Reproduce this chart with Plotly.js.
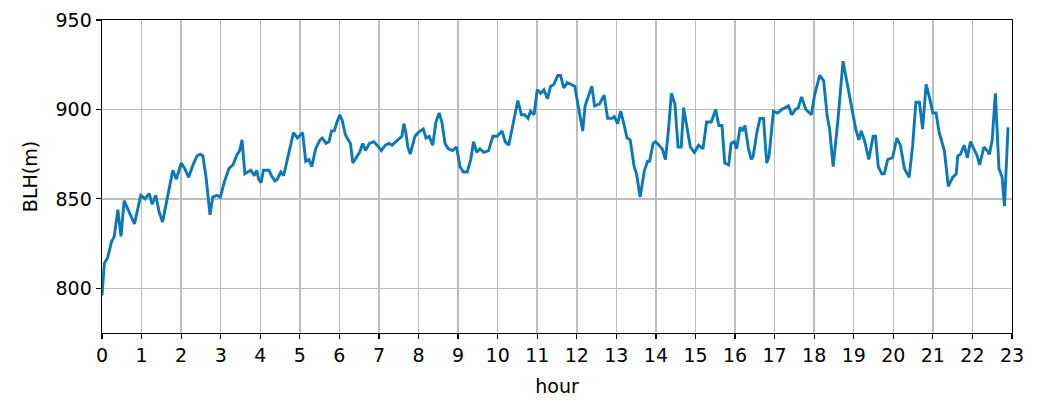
<!DOCTYPE html>
<html>
<head>
<meta charset="utf-8">
<script src="https://cdn.plot.ly/plotly-3.0.1.min.js"></script>
<style>
  html, body { margin: 0; padding: 0; background: #ffffff; }
  #chart { width: 1041px; height: 401px; }
</style>
</head>
<body>
<div id="chart"></div>
<script>
// Boundary layer height through the day
const hours = [
  0.00, 0.06, 0.14, 0.24, 0.31, 0.40, 0.48, 0.56, 0.66, 0.82, 0.98,
  1.09, 1.19, 1.27, 1.36, 1.44, 1.53, 1.68, 1.79, 1.88, 2.00,
  2.09, 2.19, 2.30, 2.40, 2.48, 2.55, 2.63, 2.73, 2.80, 2.90, 2.99,
  3.10, 3.21, 3.31, 3.42, 3.48, 3.54, 3.61, 3.68, 3.76, 3.85, 3.91, 3.96,
  4.02, 4.08, 4.22, 4.28, 4.37, 4.43, 4.52, 4.59, 4.69, 4.77, 4.84, 4.94,
  5.07, 5.15, 5.23, 5.30, 5.40, 5.51, 5.57, 5.66, 5.74, 5.80, 5.87, 5.94,
  6.01, 6.07, 6.15, 6.22, 6.28, 6.34, 6.42, 6.51, 6.59, 6.66, 6.76, 6.87, 6.95,
  7.06, 7.16, 7.25, 7.33, 7.42, 7.52, 7.58, 7.63, 7.68, 7.73, 7.79, 7.91, 7.99,
  8.12, 8.19, 8.27, 8.36, 8.44, 8.52, 8.59, 8.67, 8.75, 8.86, 8.96,
  9.05, 9.13, 9.23, 9.32, 9.39, 9.47, 9.55, 9.65, 9.77, 9.88, 9.99,
  10.11, 10.19, 10.28, 10.41, 10.51, 10.60, 10.68, 10.77, 10.83, 10.92,
  11.00, 11.09, 11.17, 11.26, 11.34, 11.42, 11.52, 11.59, 11.67, 11.76, 11.84, 11.95,
  12.02, 12.08, 12.15, 12.21, 12.30, 12.38, 12.45, 12.57, 12.69, 12.78, 12.89, 12.95,
  13.03, 13.11, 13.20, 13.27, 13.35, 13.45, 13.51, 13.60, 13.71, 13.79, 13.84, 13.93, 13.99,
  14.07, 14.16, 14.24, 14.32, 14.39, 14.48, 14.56, 14.64, 14.70, 14.79, 14.87, 14.97,
  15.08, 15.19, 15.28, 15.40, 15.51, 15.59, 15.67, 15.74, 15.84, 15.90, 15.98,
  16.04, 16.13, 16.19, 16.25, 16.34, 16.41, 16.46, 16.55, 16.63, 16.72, 16.80, 16.86, 16.97,
  17.08, 17.18, 17.27, 17.35, 17.43, 17.53, 17.60, 17.68, 17.79, 17.93,
  18.01, 18.14, 18.24, 18.33, 18.39, 18.48, 18.60, 18.73, 18.83, 18.90, 18.98,
  19.05, 19.13, 19.19, 19.28, 19.38, 19.49, 19.55, 19.62, 19.71, 19.77, 19.86, 19.98,
  20.09, 20.18, 20.28, 20.40, 20.49, 20.57, 20.66, 20.74, 20.83, 20.91, 21.00,
  21.08, 21.16, 21.29, 21.39, 21.50, 21.59, 21.63, 21.70, 21.79, 21.87, 21.95,
  22.04, 22.12, 22.18, 22.29, 22.37, 22.43, 22.50, 22.58, 22.67, 22.75, 22.81, 22.90
];

const blh = [
  796, 814, 817, 826, 829, 844, 829, 849, 844, 836, 852,
  850, 853, 847, 852, 843, 837, 853, 866, 861, 870,
  867, 862, 869, 874, 875, 874, 862, 841, 851, 852, 851,
  860, 867, 869, 875, 877, 883, 864, 865, 866, 863, 866, 861,
  859, 866, 866, 863, 860, 861, 865, 863, 873, 881, 887, 884,
  887, 871, 872, 868, 878, 883, 884, 881, 882, 888, 888, 893,
  897, 894, 886, 883, 881, 870, 873, 876, 881, 877, 881, 882, 880,
  877, 880, 881, 880, 882, 884, 885, 892, 887, 879, 875, 885, 887,
  889, 884, 885, 880, 893, 898, 893, 881, 878, 877, 879,
  868, 865, 865, 872, 882, 876, 878, 876, 877, 885, 885,
  888, 882, 880, 894, 905, 897, 897, 895, 899, 897,
  911, 909, 911, 906, 913, 914, 919, 919, 912, 915, 914, 913,
  904, 896, 888, 902, 908, 913, 902, 903, 908, 895, 895, 896,
  892, 899, 891, 884, 883, 868, 864, 851, 866, 871, 871, 881, 882,
  880, 878, 872, 889, 909, 903, 879, 879, 901, 888, 879, 876,
  880, 878, 893, 893, 900, 891, 891, 870, 869, 881, 882,
  878, 890, 888, 891, 878, 872, 874, 887, 895, 895, 870, 874, 899,
  898, 900, 901, 902, 897, 900, 901, 907, 900, 897,
  908, 919, 916, 896, 889, 868, 894, 927, 915, 906, 898,
  889, 883, 888, 882, 872, 885, 885, 868, 864, 864, 872, 873,
  884, 880, 867, 862, 880, 904, 904, 889, 914, 907, 898,
  898, 887, 877, 857, 862, 864, 874, 875, 880, 873, 882,
  878, 874, 869, 879, 877, 875, 883, 909, 867, 862, 846, 890
];

const xTicks = Array.from({length: 24}, (_, i) => i);
const yTicks = [800, 850, 900, 950];

const axisFont = {family: 'DejaVu Sans, sans-serif', size: 19, color: '#000000'};

const trace = {
  x: hours,
  y: blh,
  type: 'scatter',
  mode: 'lines',
  line: {color: '#0a78ba', width: 2.9},
  hoverinfo: 'x+y'
};

const commonAxis = {
  showline: true,
  mirror: true,
  linecolor: '#000000',
  linewidth: 1.4,
  ticks: 'outside',
  ticklen: 5,
  tickwidth: 1.2,
  tickcolor: '#000000',
  showgrid: true,
  gridcolor: '#bdbdbd',
  gridwidth: 1.5,
  zeroline: false,
  tickfont: axisFont
};

const layout = {
  width: 1041,
  height: 401,
  margin: {l: 102, r: 29, t: 20, b: 68},
  paper_bgcolor: '#ffffff',
  plot_bgcolor: '#ffffff',
  showlegend: false,
  xaxis: Object.assign({}, commonAxis, {
    range: [0, 23],
    tickmode: 'array',
    tickvals: xTicks,
    ticktext: xTicks.map(String),
    title: {text: 'hour', font: axisFont, standoff: 14}
  }),
  yaxis: Object.assign({}, commonAxis, {
    range: [775, 950],
    tickmode: 'array',
    tickvals: yTicks,
    ticktext: yTicks.map(String),
    title: {text: 'BLH(m)', font: axisFont, standoff: 13}
  })
};

Plotly.newPlot('chart', [trace], layout, {displayModeBar: false, staticPlot: true});
</script>
</body>
</html>
